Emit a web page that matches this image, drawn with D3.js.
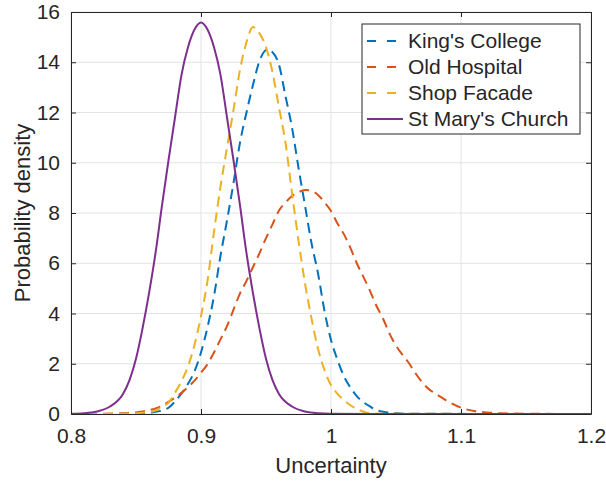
<!DOCTYPE html>
<html>
<head>
<meta charset="UTF-8">
<title>Probability density of uncertainty</title>
<script src="https://cdnjs.cloudflare.com/ajax/libs/d3/7.8.5/d3.min.js"></script>
<style>
  body { margin: 0; background: #fff; }
  text { font-family: "Liberation Sans", Arial, sans-serif; fill: #262626; }
</style>
</head>
<body>
<div id="chart"></div>
<script>
// Series names and colours (legend order)
var seriesNames = ["King's College", "Old Hospital", "Shop Facade", "St Mary's Church"];
var seriesColors = ["#0072BD", "#D95319", "#EDB120", "#7E2F8E"];
var seriesDashed = [true, true, true, false];

// Values
var kingsX = [0.80, 0.85, 0.86, 0.87, 0.875, 0.88, 0.885, 0.89, 0.895, 0.90, 0.905, 0.91, 0.915, 0.92, 0.925, 0.93, 0.935, 0.94, 0.945, 0.951, 0.955, 0.96, 0.965, 0.97, 0.975, 0.98, 0.985, 0.99, 0.995, 1.00, 1.005, 1.01, 1.015, 1.02, 1.025, 1.03, 1.035, 1.04, 1.05, 1.06, 1.20];
var kingsY = [0, 0.01, 0.05, 0.14, 0.25, 0.5, 0.82, 1.2, 1.7, 2.45, 3.45, 4.7, 6.3, 7.7, 9.2, 10.8, 12.0, 13.1, 14.05, 14.5, 14.4, 13.9, 12.65, 11.4, 9.8, 8.3, 6.8, 5.6, 4.1, 2.95, 2.15, 1.5, 1.05, 0.7, 0.47, 0.3, 0.16, 0.09, 0.03, 0.01, 0];

var oldX = [0.80, 0.82, 0.84, 0.85, 0.855, 0.86, 0.865, 0.87, 0.875, 0.88, 0.885, 0.89, 0.895, 0.90, 0.905, 0.91, 0.915, 0.92, 0.925, 0.93, 0.935, 0.94, 0.945, 0.95, 0.955, 0.96, 0.965, 0.97, 0.975, 0.98, 0.985, 0.99, 0.995, 1.00, 1.005, 1.01, 1.015, 1.02, 1.025, 1.03, 1.035, 1.04, 1.045, 1.05, 1.055, 1.06, 1.065, 1.07, 1.075, 1.08, 1.085, 1.09, 1.10, 1.11, 1.12, 1.13, 1.15, 1.20];
var oldY = [0, 0.01, 0.03, 0.06, 0.1, 0.15, 0.22, 0.33, 0.48, 0.65, 0.84, 1.07, 1.33, 1.65, 1.98, 2.45, 2.97, 3.5, 4.15, 4.8, 5.3, 5.85, 6.4, 7.0, 7.55, 8.1, 8.42, 8.68, 8.83, 8.92, 8.88, 8.72, 8.42, 8.08, 7.58, 7.15, 6.6, 5.98, 5.45, 4.9, 4.3, 3.8, 3.2, 2.72, 2.35, 2.02, 1.62, 1.27, 1.0, 0.82, 0.66, 0.5, 0.25, 0.12, 0.06, 0.03, 0.01, 0];

var shopX = [0.80, 0.84, 0.85, 0.86, 0.865, 0.87, 0.875, 0.88, 0.885, 0.89, 0.895, 0.90, 0.905, 0.91, 0.915, 0.92, 0.925, 0.93, 0.935, 0.94, 0.945, 0.95, 0.955, 0.96, 0.965, 0.97, 0.975, 0.98, 0.985, 0.99, 0.995, 1.00, 1.005, 1.01, 1.015, 1.02, 1.025, 1.03, 1.04, 1.20];
var shopY = [0, 0.01, 0.03, 0.08, 0.14, 0.28, 0.45, 0.85, 1.3, 1.9, 2.75, 3.9, 5.3, 7.25, 9.05, 10.6, 12.1, 13.7, 14.8, 15.4, 15.15, 14.6, 13.6, 12.2, 10.8, 8.8, 6.9, 5.2, 3.8, 2.6, 1.75, 1.15, 0.8, 0.55, 0.35, 0.2, 0.09, 0.04, 0.01, 0];

var maryX = [0.80, 0.81, 0.82, 0.83, 0.84, 0.845, 0.85, 0.855, 0.86, 0.865, 0.87, 0.875, 0.88, 0.885, 0.89, 0.895, 0.90, 0.905, 0.91, 0.915, 0.92, 0.925, 0.93, 0.935, 0.94, 0.945, 0.95, 0.955, 0.96, 0.97, 0.98, 0.99, 1.00, 1.05, 1.20];
var maryY = [0.01, 0.03, 0.1, 0.3, 0.8, 1.35, 2.2, 3.4, 4.8, 6.4, 8.3, 10.1, 11.8, 13.5, 14.6, 15.3, 15.58, 15.3, 14.6, 13.5, 11.8, 10.1, 8.3, 6.4, 4.8, 3.4, 2.2, 1.35, 0.8, 0.3, 0.1, 0.03, 0.01, 0, 0];

var xTicks = [0.8, 0.9, 1.0, 1.1, 1.2];
var xTickLabels = ["0.8", "0.9", "1", "1.1", "1.2"];
var yTicks = [0, 2, 4, 6, 8, 10, 12, 14, 16];

var allX = [kingsX, oldX, shopX, maryX];
var allY = [kingsY, oldY, shopY, maryY];

// Size of chart
var w = 606, h = 483;
var margin = { left: 71, right: 15, top: 12, bottom: 69 };
var pw = w - margin.left - margin.right;
var ph = h - margin.top - margin.bottom;

var svg = d3.select("#chart").append("svg")
  .attr("width", w)
  .attr("height", h);

var x = d3.scaleLinear().domain([0.8, 1.2]).range([0, pw]);
var y = d3.scaleLinear().domain([0, 16]).range([ph, 0]);

var g = svg.append("g")
  .attr("transform", "translate(" + margin.left + "," + margin.top + ")");

g.append("rect")
  .attr("width", pw).attr("height", ph)
  .attr("fill", "#fff");

// Grid lines
g.selectAll(".gx").data(xTicks).enter().append("line")
  .attr("x1", d => x(d)).attr("x2", d => x(d))
  .attr("y1", 0).attr("y2", ph)
  .attr("stroke", "#e3e3e3").attr("stroke-width", 1);
g.selectAll(".gy").data(yTicks).enter().append("line")
  .attr("x1", 0).attr("x2", pw)
  .attr("y1", d => y(d)).attr("y2", d => y(d))
  .attr("stroke", "#e3e3e3").attr("stroke-width", 1);

g.append("clipPath").attr("id", "clip")
  .append("rect").attr("width", pw).attr("height", ph);

var line = d3.line()
  .x(d => x(d[0]))
  .y(d => y(d[1]))
  .curve(d3.curveMonotoneX);

var curves = g.append("g").attr("clip-path", "url(#clip)");
seriesNames.forEach(function(name, i) {
  var pts = allX[i].map((v, j) => [v, allY[i][j]]);
  curves.append("path")
    .datum(pts)
    .attr("d", line)
    .attr("fill", "none")
    .attr("stroke", seriesColors[i])
    .attr("stroke-width", 2)
    .attr("stroke-dasharray", seriesDashed[i] ? "10,6" : null);
});

// Axes (inward ticks, box on)
var tickLen = 5;
var xAxis = d3.axisBottom(x).tickValues(xTicks).tickFormat((d, i) => xTickLabels[i]).tickSizeInner(-tickLen).tickSizeOuter(0).tickPadding(14);
var yAxis = d3.axisLeft(y).tickValues(yTicks).tickSizeInner(-tickLen).tickSizeOuter(0).tickPadding(11);
var xTop = d3.axisTop(x).tickValues(xTicks).tickFormat("").tickSizeInner(-tickLen).tickSizeOuter(0);
var yRight = d3.axisRight(y).tickValues(yTicks).tickFormat("").tickSizeInner(-tickLen).tickSizeOuter(0);

function styleAxis(sel) {
  sel.select(".domain").attr("stroke", "#262626").attr("stroke-width", 1);
  sel.selectAll(".tick line").attr("stroke", "#262626");
  sel.selectAll(".tick text").attr("fill", "#262626")
    .style("font-family", "'Liberation Sans', Arial, sans-serif")
    .style("font-size", "21px");
}

g.append("g").attr("transform", "translate(0," + ph + ")").call(xAxis).call(styleAxis);
g.append("g").call(yAxis).call(styleAxis);
g.append("g").call(xTop).call(styleAxis);
g.append("g").attr("transform", "translate(" + pw + ",0)").call(yRight).call(styleAxis);

// Axis labels
svg.append("text")
  .attr("x", margin.left + pw / 2).attr("y", 473)
  .attr("text-anchor", "middle")
  .style("font-size", "22px")
  .text("Uncertainty");
svg.append("text")
  .attr("transform", "translate(30," + (margin.top + ph / 2) + ") rotate(-90)")
  .attr("text-anchor", "middle")
  .style("font-size", "22px")
  .text("Probability density");

// Legend
var lg = svg.append("g").attr("transform", "translate(362,24)");
lg.append("rect")
  .attr("width", 218).attr("height", 110)
  .attr("fill", "#fff").attr("stroke", "#262626").attr("stroke-width", 1);
seriesNames.forEach(function(name, i) {
  var cy = 17 + i * 26;
  lg.append("line")
    .attr("x1", 5).attr("x2", 41)
    .attr("y1", cy).attr("y2", cy)
    .attr("stroke", seriesColors[i]).attr("stroke-width", 2)
    .attr("stroke-dasharray", seriesDashed[i] ? "9,11" : null);
  lg.append("text")
    .attr("x", 46).attr("y", cy + 7)
    .style("font-size", "21px")
    .text(name);
});
</script>
</body>
</html>
